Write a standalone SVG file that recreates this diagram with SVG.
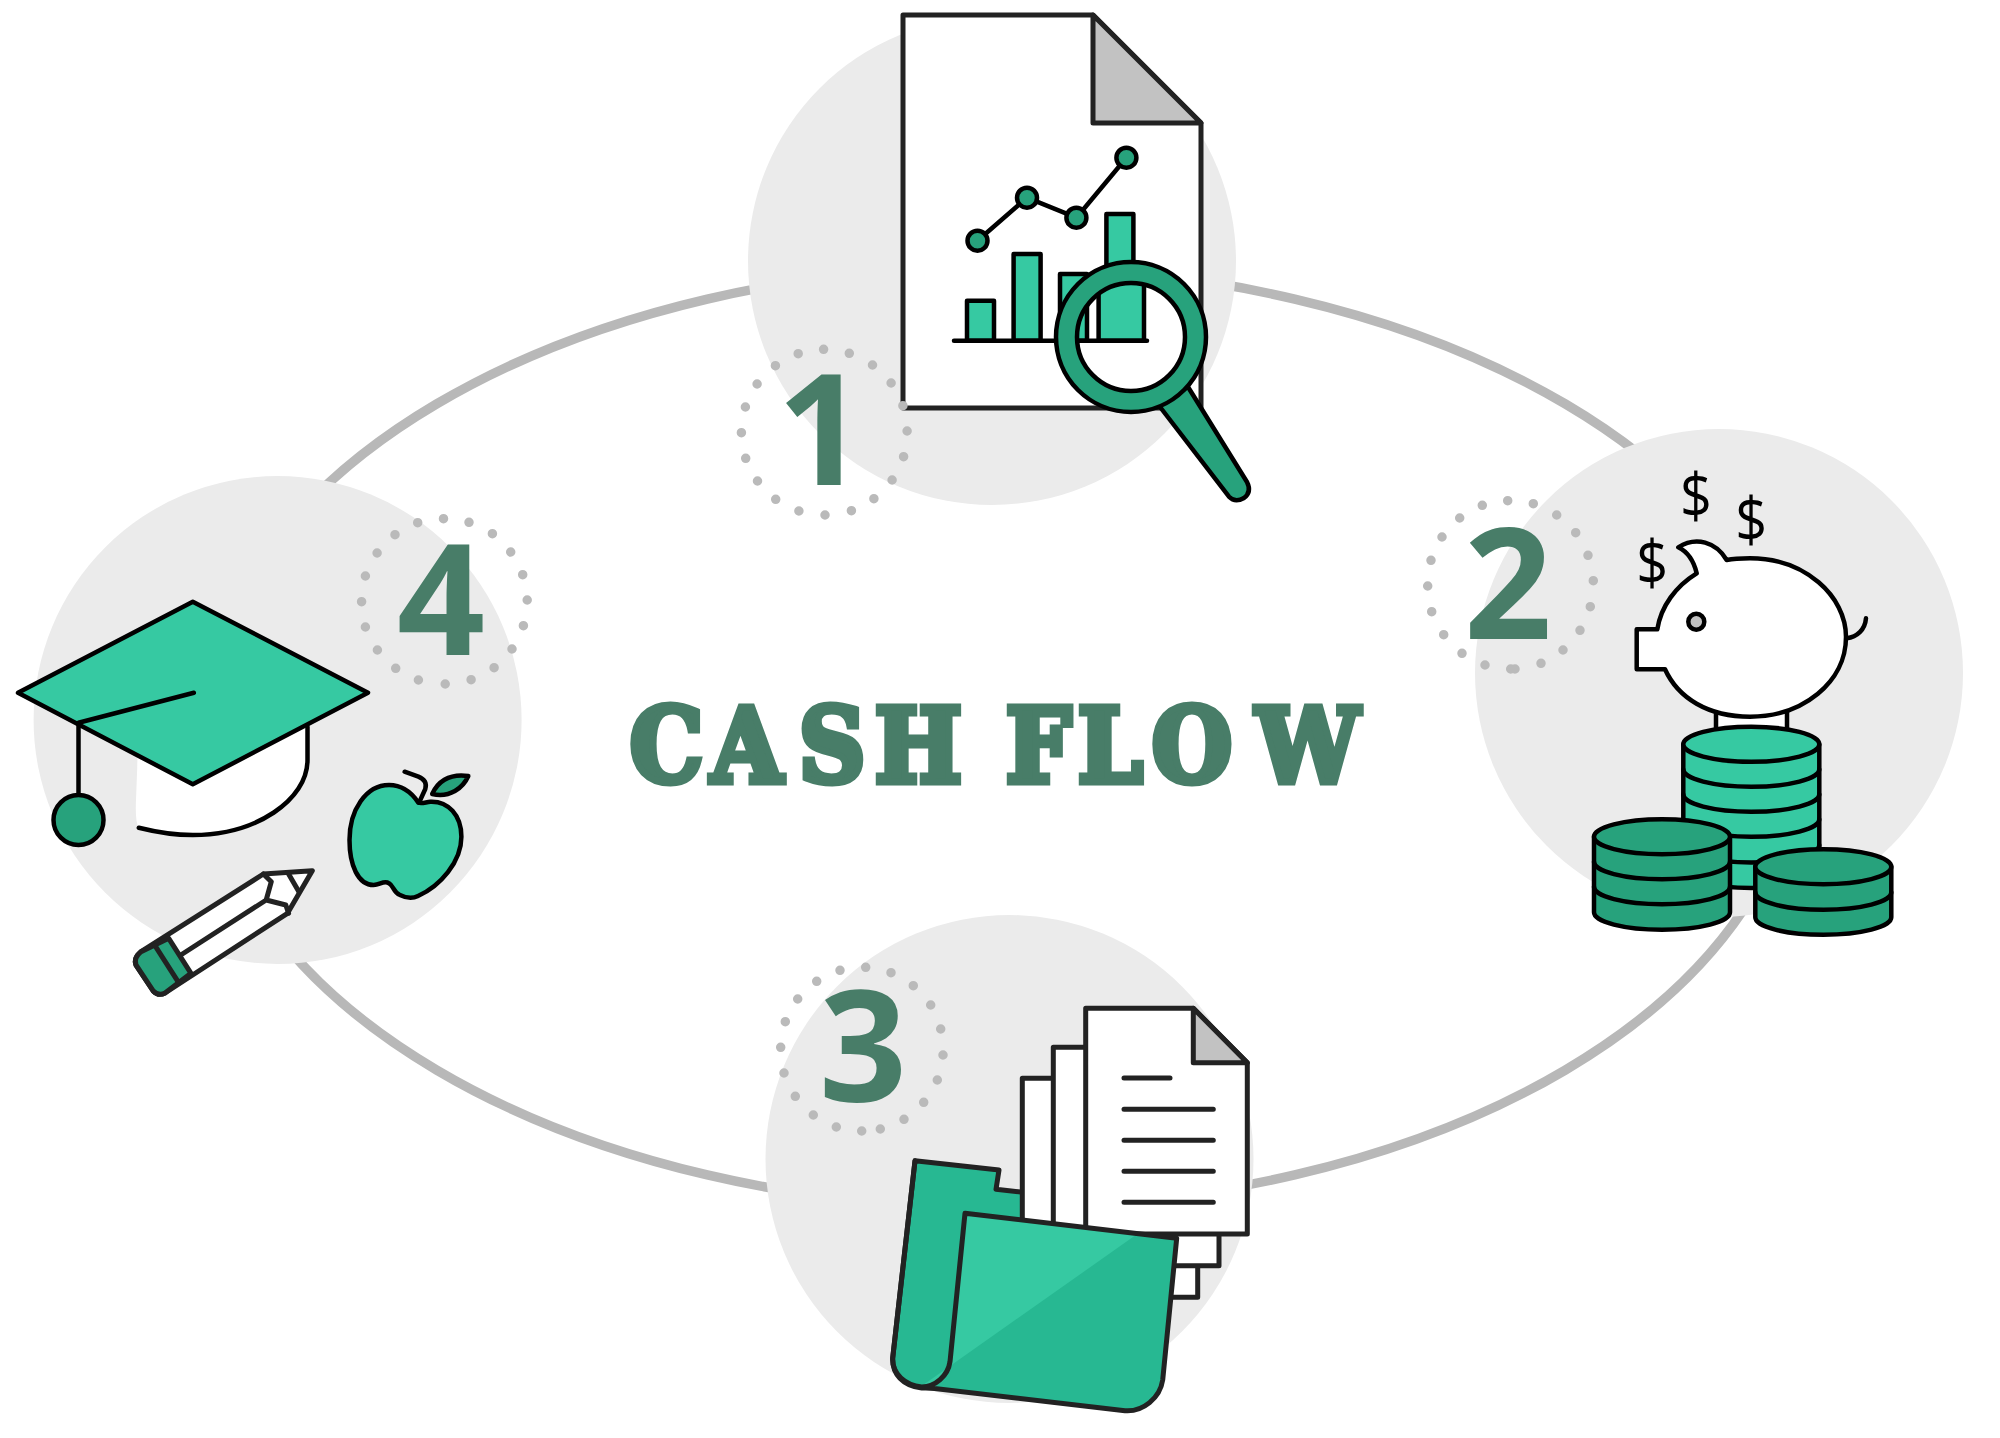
<svg xmlns="http://www.w3.org/2000/svg" width="2000" height="1438" viewBox="0 0 2000 1438">
  <style>
    .disc { fill: #ebebeb; }
    .dots { fill: none; stroke: #bababa; stroke-width: 9.5; stroke-linecap: round; }
    .num { font-family: "Open Sans", "Noto Sans", sans-serif; font-weight: 700; font-size: 154px; fill: #487d68; text-anchor: middle; }
    .ln { stroke: #222; stroke-width: 5; stroke-linejoin: round; stroke-linecap: round; }
    .lb { stroke: #000; stroke-width: 4.5; stroke-linejoin: round; stroke-linecap: round; }
    .none { fill: none; }
    .white { fill: #fff; }
    .grey { fill: #c2c2c2; }
    .light { fill: #36c9a2; }
    .mid { fill: #27b892; }
    .dark { fill: #27a27c; }
    .usd { font-family: "Open Sans", "Noto Sans", sans-serif; font-size: 62px; fill: #000; text-anchor: middle; }
  </style>
  <defs>
    <clipPath id="lens"><circle cx="1131" cy="337" r="54"/></clipPath>
  </defs>
  <rect width="2000" height="1438" fill="#fff"/>

  <g id="connectors">
    <ellipse cx="1001" cy="737" rx="798" ry="471" fill="none" stroke="#b8b8b8" stroke-width="9.5"/>
  </g>

  <g id="node-1">
    <circle class="disc" cx="992" cy="261" r="244"/>
    <path class="ln white" d="M903 15H1093L1201 123V408H903Z"/>
    <path class="ln grey" d="M1093 15L1201 123H1093Z"/>
    <path class="lb none" d="M977.5 240.7L1027 197.7L1076.4 217.7L1126.4 157.7"/>
    <g class="lb dark">
      <circle cx="977.5" cy="240.7" r="10"/>
      <circle cx="1027" cy="197.7" r="10"/>
      <circle cx="1076.4" cy="217.7" r="10"/>
      <circle cx="1126.4" cy="157.7" r="10"/>
    </g>
    <g class="lb light">
      <rect x="967" y="300.7" width="27" height="40"/>
      <rect x="1013.6" y="254" width="27" height="86.7"/>
      <rect x="1060" y="274" width="27" height="66.7"/>
      <rect x="1106.4" y="214" width="27" height="126.7"/>
    </g>
    <path class="lb none" d="M954 340.7H1147"/>
    <path class="lb dark" d="M1159.3 406L1187.9 386.7L1247 482Q1252 492 1244 498Q1235 503 1229 496.7Z"/>
    <circle class="lb dark" cx="1131" cy="337" r="75"/>
    <circle class="white" cx="1131" cy="337" r="54"/>
    <g clip-path="url(#lens)">
      <g class="lb light">
        <rect x="1060" y="274" width="27" height="66.7"/>
        <rect x="1098.6" y="260" width="45.4" height="80.7"/>
      </g>
      <path class="lb none" d="M1060 340.7H1147"/>
    </g>
    <circle class="lb none" cx="1131" cy="337" r="54"/>
    <path class="dots" d="M823.6 349.3h0M849.3 353.3h0M872.5 365h0M891.1 383h0M902.9 405.7h0M907.1 431h0M903.6 456.7h0M892.1 480h0M873.9 498.7h0M851.4 510.7h0M825 515h0M798.9 511h0M775.7 499.3h0M757.5 481h0M745.7 458.3h0M741.4 432.7h0M745.4 407h0M757.1 384h0M775.4 365.7h0M798.2 353.7h0"/>
    <text class="num" x="821" y="485">1</text>
  </g>

  <g id="node-2">
    <circle class="disc" cx="1719" cy="673" r="244"/>
    <path class="lb white" d="M1716 705V732H1787V705Z"/>
    <path class="lb white" d="M1636.7 629.3H1657.3C1661 606 1676 586 1696.7 573.3C1694 562 1688 552 1678.3 547.3C1696 536 1716 542 1726.7 560C1734 558.5 1742 558.3 1750 558.3C1805 558.3 1846 596 1846 637C1846 682 1803 716.7 1750 716.7C1708 716.7 1678 698 1665 669.3H1636.7Z"/>
    <circle class="lb grey" cx="1696.3" cy="621.7" r="8"/>
    <path class="lb none" d="M1846.7 638.3C1857 637 1865 630 1866 618.3"/>
    <text class="usd" transform="translate(1652.3 585) scale(.9 1)">$</text>
    <text class="usd" transform="translate(1696 518) scale(.9 1)">$</text>
    <text class="usd" transform="translate(1751.3 542) scale(.9 1)">$</text>
    <path class="lb light" d="M1683.3 744.3V870.5A68 17.5 0 0 0 1819.3 870.5V744.3Z"/>
    <path class="lb none" d="M1683.3 769.3A68 17.5 0 0 0 1819.3 769.3M1683.3 794.3A68 17.5 0 0 0 1819.3 794.3M1683.3 819.3A68 17.5 0 0 0 1819.3 819.3M1683.3 845A68 17.5 0 0 0 1819.3 845"/>
    <ellipse class="lb light" cx="1751.3" cy="744.3" rx="68" ry="17.5"/>
    <path class="lb dark" d="M1594 836.7V912.3A68 17.5 0 0 0 1730 912.3V836.7Z"/>
    <path class="lb none" d="M1594 861.7A68 17.5 0 0 0 1730 861.7M1594 886.7A68 17.5 0 0 0 1730 886.7"/>
    <ellipse class="lb dark" cx="1662" cy="836.7" rx="68" ry="17.5"/>
    <path class="lb dark" d="M1755.3 866.7V917.3A68 17.5 0 0 0 1891.3 917.3V866.7Z"/>
    <path class="lb none" d="M1755.3 892.3A68 17.5 0 0 0 1891.3 892.3"/>
    <ellipse class="lb dark" cx="1823.3" cy="866.7" rx="68" ry="17.5"/>
    <path class="dots" d="M1507.7 500.7h0M1533.3 503.7h0M1556.7 515h0M1575.7 532.7h0M1588 555.3h0M1593.3 580.7h0M1590.3 606.7h0M1580 630.3h0M1563 650h0M1541 663.3h0M1515 669h0M1510.7 669h0M1485 665h0M1462 653.3h0M1443.7 634.7h0M1431.7 611.7h0M1427.7 586h0M1431 560.3h0M1442 537h0M1459.7 518h0M1482.3 505.3h0"/>
    <text class="num" x="1508" y="639">2</text>
  </g>

  <g id="node-3">
    <circle class="disc" cx="1009.5" cy="1159" r="244"/>
    <path class="ln mid" d="M915 1160.7L999 1170L996 1189.3L1040 1194V1388H921.7C903 1386 892 1374 892.7 1358Z"/>
    <path class="ln white" d="M1022.3 1078.3H1197.7V1297.3H1022.3Z"/>
    <path class="ln white" d="M1053.3 1047.3H1219V1265.7H1053.3Z"/>
    <path class="ln white" d="M1085.7 1008.3H1193.3L1247.3 1062.7V1234H1085.7Z"/>
    <path class="ln grey" d="M1193.3 1008.3L1247.3 1062.7H1193.3Z"/>
    <path class="ln none" d="M1124 1078H1170M1124 1109.3H1213.3M1124 1140.3H1213.3M1124 1171.3H1213.3M1124 1202.3H1213.3"/>
    <path class="mid" d="M965 1213.3L1176.7 1238.3L1162.7 1380C1160 1398 1143 1412 1125 1410.7L921.7 1388C935 1388 948 1376 950 1361.7Z"/>
    <path class="light" d="M965 1213.3L1138.3 1233.3L921.7 1386C935 1386 948 1376 950 1361.7Z"/>
    <path class="ln none" d="M965 1213.3L1176.7 1238.3L1162.7 1380C1160 1398 1143 1412 1125 1410.7L921.7 1387C905 1385 892 1374 892.7 1358L915 1160.7M965 1213.3L950 1361.7C948 1376 935 1387 921.7 1387"/>
    <path class="dots" d="M865.7 967.3h0M891 972.7h0M913.3 985.7h0M930.7 1005h0M940.7 1029h0M943 1055h0M937.3 1080h0M923.7 1102.3h0M904 1119.3h0M880.3 1129h0M861.7 1131h0M836.3 1127h0M813.3 1115h0M795.3 1096.3h0M784 1073h0M780.7 1047.3h0M785.3 1021.7h0M797.7 999h0M816.7 981.3h0M840 970.3h0"/>
    <text class="num" x="863" y="1101">3</text>
  </g>

  <g id="node-4">
    <circle class="disc" cx="277.6" cy="720" r="244"/>
    <path class="white" d="M137.7 755L136 800Q135 822 138.8 827.7L300 780L307.5 726.7L192.8 700Z"/>
    <path class="white" d="M138.8 827.7C156 832 174 835 192.8 835C256 835 307.5 800 307.5 760V726.7L137.7 760Z"/>
    <path class="lb none" d="M138.8 827.7C156 832 174 835 192.8 835C256 835 307.5 800 307.5 760V726.7"/>
    <path class="lb none" d="M78.5 722.7V800"/>
    <circle class="lb dark" cx="78.5" cy="820" r="25"/>
    <path class="lb light" d="M192.8 601.7L368 692.7L192.8 784.3L18 692.7Z"/>
    <path class="lb none" d="M78.5 722.7L193.9 692.7"/>
    <path class="lb light" d="M418.4 802.7C410 790 400 785 389 785C366 785 349.5 810 349.5 840C349.5 865 358 885 373.6 885C380 885 384 880 389 883.3C394 886 393 892 400 895C406 898 412 899 418 896C440 886 461.4 862 461.4 836.7C461.4 815 448 801 430.4 801.7C426 802 422 804 418.4 802.7Z"/>
    <path class="lb none" d="M404.6 771.7L418.4 776.7C424 779 427 783 425.3 789L419 802.7"/>
    <path class="lb dark" d="M432.2 794C437 783 448 773 468.3 776C463 788 450 798 432.2 794Z"/>
    <path class="grey" d="M269.6 883.3L268.6 898.3L279 901.7Z"/>
    <path class="ln white" d="M312.3 870.7L263.4 874L141 951.7C136 956 134 960 136 965L153 990.7C157 995 161 995 165 993L287.5 913.3Z"/>
    <path class="ln dark" d="M168.7 938.3L141 951.7C136 956 134 960 136 965L153 990.7C157 995 161 995 165 993L191 973.3Z"/>
    <path class="ln none" d="M155 945.7L178 981.7M180.8 955L266.2 900L271.3 881.7L263.4 874M266.2 900L285.8 905L288.6 913.3M288.6 874L298.9 891.7"/>
    <path class="dots" d="M443.5 518.7h0M469 522.3h0M492.4 533.7h0M510.7 552h0M522.7 574.7h0M527.2 600h0M523.4 625.7h0M512 649h0M494.1 667.7h0M471.1 679.7h0M445.2 684h0M418.4 680h0M395.7 668.3h0M377.4 650h0M365.4 627h0M361.6 601.7h0M365.4 576h0M377.1 553h0M395 534.7h0M417.7 522.7h0"/>
    <text class="num" x="441" y="655">4</text>
  </g>

  <g id="title">
    <text x="630 711 799 875 985 1006 1078 1152 1256" y="781.5" font-family="'DejaVu Serif Condensed', 'DejaVu Serif', serif" font-stretch="condensed" font-weight="700" font-size="102" fill="#487d68" stroke="#487d68" stroke-width="7" stroke-linejoin="miter">CASH FLOW</text>
  </g>
</svg>
